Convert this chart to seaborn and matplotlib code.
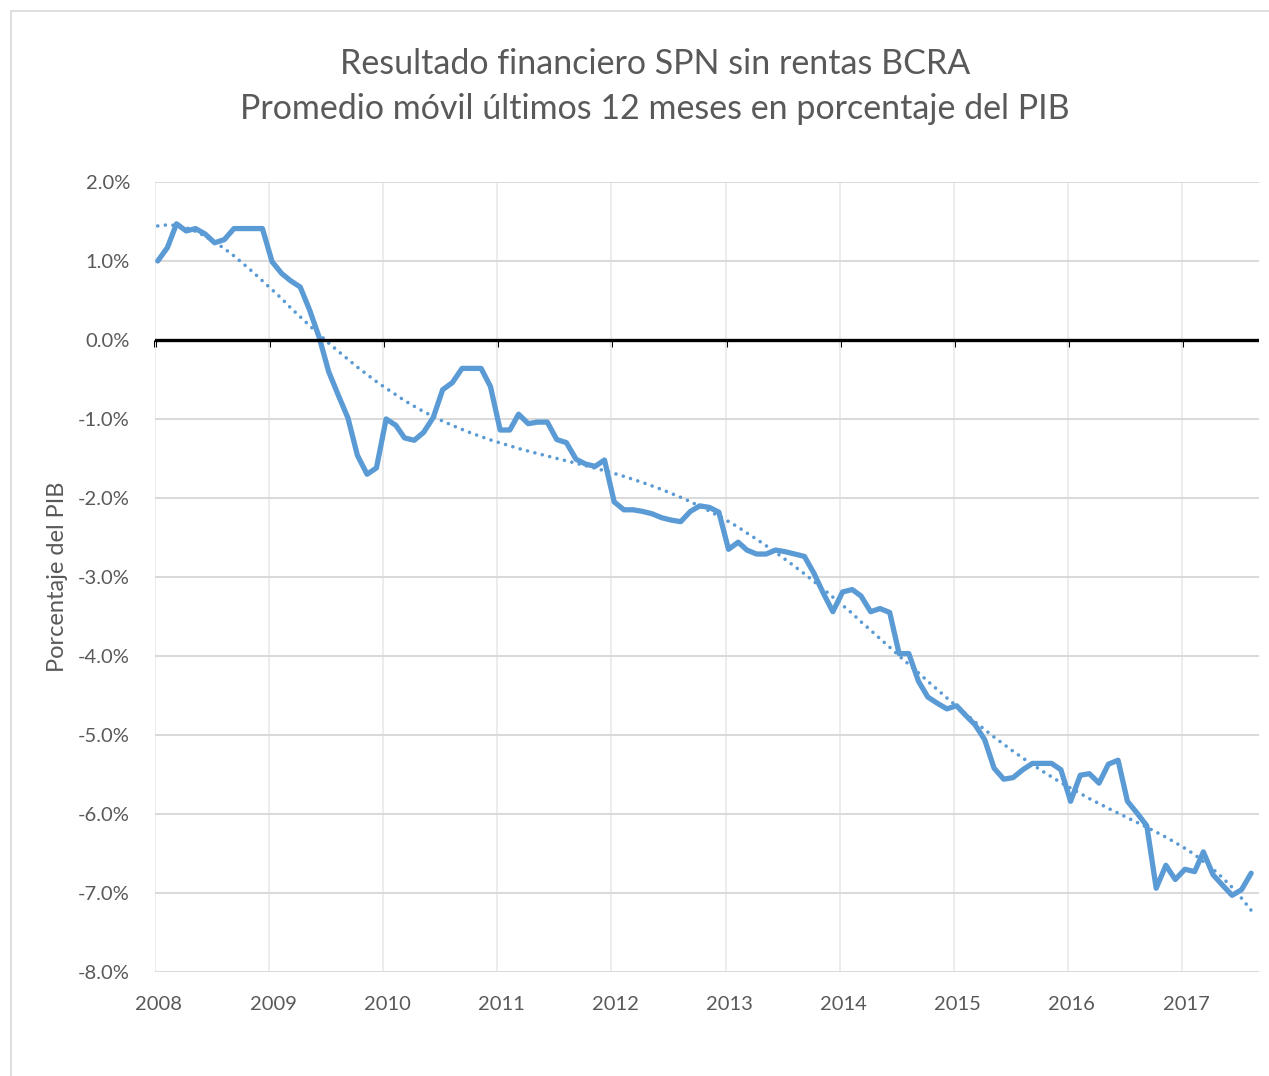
import numpy as np
import pandas as pd
import matplotlib
matplotlib.use("Agg")
import matplotlib.pyplot as plt
import matplotlib.dates as mdates
import matplotlib.transforms as mtransforms
from matplotlib.lines import Line2D
from matplotlib.ticker import FuncFormatter, MultipleLocator
import seaborn as sns

# resultado financiero SPN sin rentas BCRA, promedio movil 12 meses (% del PIB), ene-2008 a ago-2017
start_month = "2008-01-10"
resultado = [
    1.00, 1.17, 1.47, 1.38, 1.41, 1.34, 1.23, 1.27, 1.41, 1.41, 1.41, 1.41,
    0.99, 0.84, 0.75, 0.67, 0.38, 0.03, -0.40, -0.70, -0.99, -1.46, -1.70, -1.62,
    -1.00, -1.08, -1.24, -1.27, -1.17, -0.98, -0.63, -0.54, -0.36, -0.36, -0.36, -0.59,
    -1.14, -1.14, -0.94, -1.06, -1.04, -1.04, -1.26, -1.30, -1.51, -1.57, -1.60, -1.52,
    -2.05, -2.15, -2.15, -2.17, -2.20, -2.25, -2.28, -2.30, -2.17, -2.10, -2.12, -2.18,
    -2.65, -2.56, -2.66, -2.71, -2.71, -2.66, -2.68, -2.71, -2.74, -2.95, -3.21, -3.44,
    -3.19, -3.16, -3.24, -3.44, -3.40, -3.45, -3.97, -3.97, -4.32, -4.52, -4.60, -4.67,
    -4.63, -4.76, -4.87, -5.06, -5.42, -5.56, -5.54, -5.44, -5.36, -5.36, -5.36, -5.44,
    -5.84, -5.51, -5.49, -5.61, -5.37, -5.32, -5.84, -5.99, -6.15, -6.94, -6.65, -6.83,
    -6.70, -6.73, -6.48, -6.77, -6.90, -7.03, -6.96, -6.75,
]
year_ticks = list(range(2008, 2018))
titulo = ["Resultado financiero SPN sin rentas BCRA",
          "Promedio móvil últimos 12 meses en porcentaje del PIB"]

fechas = pd.date_range(start_month, periods=len(resultado), freq=pd.DateOffset(months=1))
df = pd.DataFrame({"fecha": fechas, "resultado": resultado})

# linea de tendencia polinomica (orden 6) como en excel
idx = np.arange(len(df)) / len(df)
coef = np.polyfit(idx, df["resultado"], 6)
df["tendencia"] = np.polyval(coef, idx)

sns.set_style("white")
plt.rcParams["font.family"] = ["Lato", "DejaVu Sans"]

azul = "#5b9bd5"
gris = "#595959"

fig = plt.figure(figsize=(12.69, 10.76), dpi=100)
ax = fig.add_axes([0.1221, 0.0967, 0.8700, 0.7342])

sns.lineplot(data=df, x="fecha", y="tendencia", ax=ax, color=azul, lw=2.6,
             linestyle=(0, (0.01, 2.1)), dash_capstyle="round", zorder=3)
sns.lineplot(data=df, x="fecha", y="resultado", ax=ax, color=azul, lw=3.8,
             solid_joinstyle="round", zorder=4)

ax.set_ylim(-8, 2)
ax.set_xlim(pd.Timestamp("2008-01-01"), pd.Timestamp("2017-09-04"))
ax.yaxis.set_major_locator(MultipleLocator(1))
ax.yaxis.set_major_formatter(FuncFormatter(lambda v, p: f"{v:.1f}%"))
ax.set_xticks([pd.Timestamp(f"{y}-01-01") for y in year_ticks])
ax.xaxis.set_major_formatter(mdates.DateFormatter("%Y"))

ax.grid(axis="y", color="#d9d9d9", lw=1.4)
ax.grid(axis="x", color="#ececec", lw=1.4)
for s in ax.spines.values():
    s.set_visible(False)
ax.tick_params(axis="both", length=0, labelsize=14.5, labelcolor=gris)
ax.tick_params(axis="y", pad=18)
ax.tick_params(axis="x", pad=17)
# etiquetas de anio un poco a la derecha, como en excel
corrimiento = mtransforms.ScaledTranslation(4 / 100, 0, fig.dpi_scale_trans)
for lbl in ax.get_xticklabels():
    lbl.set_transform(lbl.get_transform() + corrimiento)

# eje horizontal en cero con marcas hacia abajo
ax.axhline(0, color="black", lw=2.4, zorder=5)
eje0 = ax.secondary_xaxis(0.8)
eje0.set_alignment("bottom")
eje0.spines["bottom"].set_visible(False)
eje0.set_xticks(ax.get_xticks())
eje0.tick_params(axis="x", direction="out", length=5, width=2.2, color="black", labelbottom=False)

ax.set_xlabel("")
ax.set_ylabel("Porcentaje del PIB", fontsize=17, color=gris)
ax.yaxis.set_label_coords(-0.079, 0.5)

fig.text(0.516, 0.9405, titulo[0], ha="center", va="center", fontsize=24.5, color=gris)
fig.text(0.516, 0.8985, titulo[1], ha="center", va="center", fontsize=24.5, color=gris)

# borde del area del grafico
fig.add_artist(Line2D([11 / 1269, 11 / 1269], [0, 1 - 11 / 1076], color="#d9d9d9", lw=1.2))
fig.add_artist(Line2D([11 / 1269, 1], [1 - 11 / 1076, 1 - 11 / 1076], color="#d9d9d9", lw=1.2))

fig.savefig("out.png", dpi=100)
